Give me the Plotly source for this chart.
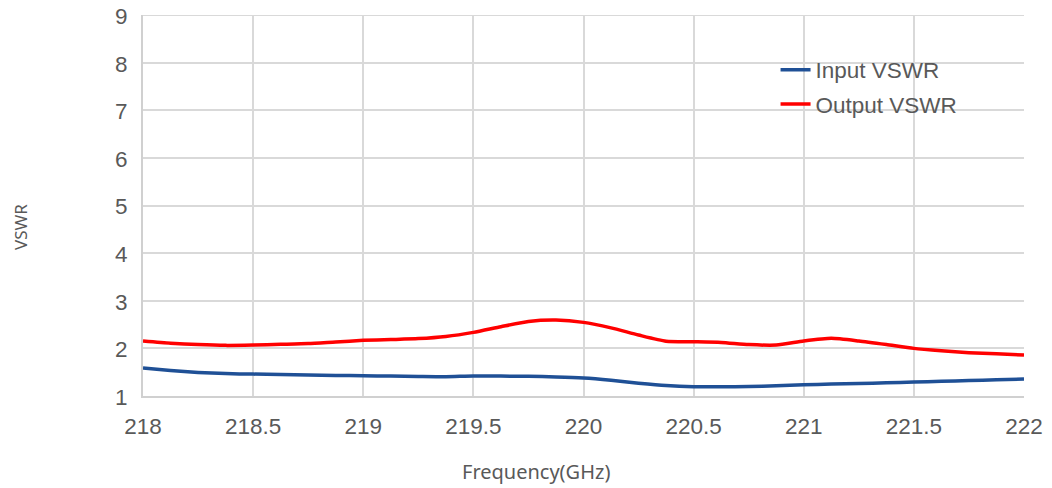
import plotly.graph_objects as go

freq = [218.000, 218.125, 218.250, 218.375, 218.500, 218.625, 218.750, 218.875,
        219.000, 219.125, 219.250, 219.375, 219.500, 219.625, 219.750, 219.875,
        220.000, 220.125, 220.250, 220.375, 220.500, 220.625, 220.750, 220.875,
        221.000, 221.125, 221.250, 221.375, 221.500, 221.625, 221.750, 221.875,
        222.000]
input_vswr = [1.587, 1.535, 1.495, 1.470, 1.460, 1.450, 1.440, 1.432,
              1.426, 1.418, 1.410, 1.405, 1.420, 1.418, 1.413, 1.400,
              1.377, 1.330, 1.270, 1.220, 1.195, 1.193, 1.200, 1.215,
              1.237, 1.250, 1.262, 1.278, 1.293, 1.310, 1.325, 1.340,
              1.356]
output_vswr = [2.155, 2.110, 2.080, 2.063, 2.070, 2.085, 2.100, 2.135,
               2.168, 2.185, 2.205, 2.250, 2.336, 2.455, 2.565, 2.595,
               2.546, 2.430, 2.280, 2.150, 2.140, 2.125, 2.080, 2.070,
               2.154, 2.210, 2.155, 2.080, 2.000, 1.950, 1.910, 1.885,
               1.860]
x_ticks = [218, 218.5, 219, 219.5, 220, 220.5, 221, 221.5, 222]
x_tick_text = ["218", "218.5", "219", "219.5", "220", "220.5", "221", "221.5", "222"]
y_ticks = [1, 2, 3, 4, 5, 6, 7, 8, 9]

fig = go.Figure()
fig.add_trace(go.Scatter(x=freq, y=input_vswr, mode="lines", name="Input VSWR",
                         line=dict(color="#1F5096", width=3.5, shape="spline", smoothing=0.6),
                         legendgroup="a"))
fig.add_trace(go.Scatter(x=freq, y=output_vswr, mode="lines", name="Output VSWR",
                         line=dict(color="#FF0000", width=3.5, shape="spline", smoothing=0.6),
                         legendgroup="b"))

grid = "#D9D9D9"
fs = 22.5
fig.update_layout(
    width=1044, height=480,
    margin=dict(l=135, r=28, t=7, b=92),
    paper_bgcolor="white", plot_bgcolor="white",
    font=dict(family="Liberation Sans, Arial, sans-serif", size=fs, color="#595959"),
    showlegend=True,
    legend=dict(x=0.718, y=0.912, xanchor="left", yanchor="top",
                bgcolor="rgba(0,0,0,0)", tracegroupgap=2,
                font=dict(size=fs, color="#595959")),
    xaxis=dict(range=[218, 222], tickvals=x_ticks, ticktext=x_tick_text,
               showgrid=True, gridcolor=grid, gridwidth=1.5,
               showline=True, linecolor="#D0D0D0", linewidth=2,
               ticks="outside", ticklen=9, tickcolor="rgba(0,0,0,0)",
               ticklabeloverflow="allow",
               zeroline=False, fixedrange=True, automargin=False),
    yaxis=dict(range=[1, 9], tickvals=y_ticks,
               showgrid=True, gridcolor=grid, gridwidth=1.5,
               showline=True, linecolor="#D0D0D0", linewidth=2,
               ticks="outside", ticklen=9, tickcolor="rgba(0,0,0,0)",
               ticklabeloverflow="allow", ticklabelshift=1,
               zeroline=False, fixedrange=True, automargin=False),
)

# top border gridline (plotly drops the grid line lying on the range edge)
fig.add_shape(type="line", xref="paper", yref="y", x0=0, x1=1, y0=y_ticks[-1], y1=y_ticks[-1],
              line=dict(color=grid, width=2), layer="above")

fig.add_annotation(text="Frequency(GHz)", xref="paper", yref="paper",
                   x=0.446, y=-0.197, xanchor="center", yanchor="middle",
                   showarrow=False,
                   font=dict(family="Noto Sans, Open Sans, sans-serif", size=20, color="#595959"))
fig.add_annotation(text="VSWR", xref="paper", yref="paper",
                   x=-0.1385, y=0.4436, xanchor="center", yanchor="middle",
                   textangle=-90, showarrow=False,
                   font=dict(family="Noto Sans, Open Sans, sans-serif", size=17, color="#595959"))

fig.write_html("out.html")
